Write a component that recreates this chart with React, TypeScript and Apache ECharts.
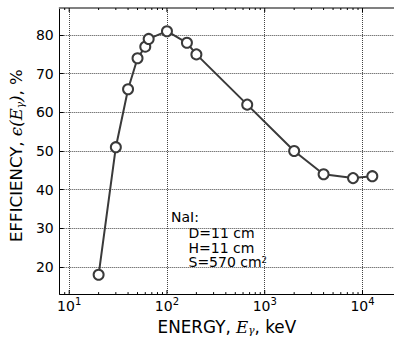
import React, { useEffect, useRef } from 'react';
import * as echarts from 'echarts';

// Data
const ENERGY_KEV = [20, 30, 40, 50, 60, 65, 100, 160, 200, 662, 2000, 4000, 8000, 12600];
const EFFICIENCY_PCT = [18, 51, 66, 74, 77, 79, 81, 78, 75, 62, 50, 44, 43, 43.5];

// Axis ticks
const X_MAJOR_TICKS = [10, 100, 1000, 10000];
const X_MINOR_TICKS = [
  9,
  20, 30, 40, 50, 60, 70, 80, 90,
  200, 300, 400, 500, 600, 700, 800, 900,
  2000, 3000, 4000, 5000, 6000, 7000, 8000, 9000,
];
const Y_TICK_LABELS = [20, 30, 40, 50, 60, 70, 80];

const NOTE_LINES = ['NaI:', 'D=11 cm', 'H=11 cm', 'S=570 cm{sup|2}'];

const X_MIN = 8;
const X_MAX = 21000;
const Y_MIN = 13;
const Y_MAX = 87;

const SANS = 'DejaVu Sans';
const SERIF = 'DejaVu Serif';

export default function App() {
  const ref = useRef<HTMLDivElement>(null);

  useEffect(() => {
    document.body.style.margin = '0';
    if (!ref.current) return;
    const chart = echarts.init(ref.current, undefined, { renderer: 'svg' });

    const tickData = [
      ...X_MAJOR_TICKS.map((v) => [v, Y_MIN, 1]),
      ...X_MINOR_TICKS.map((v) => [v, Y_MIN, 0]),
    ];

    const isPow10 = (v: number) => {
      const e = Math.round(Math.log10(v));
      return Math.abs(v - Math.pow(10, e)) < 1e-6 * v;
    };

    chart.setOption({
      animation: false,
      backgroundColor: '#fff',
      grid: { left: 49, top: 8, right: -9, bottom: 39, containLabel: false },
      xAxis: [
        {
          type: 'log',
          logBase: 10,
          min: X_MIN,
          max: X_MAX,
          position: 'bottom',
          name: 'ENERGY, {m|E}{s|γ}, keV',
          nameLocation: 'middle',
          nameGap: 20,
          nameTextStyle: {
            fontFamily: SANS,
            fontSize: 16.8,
            color: '#000',
            rich: {
              m: { fontFamily: SERIF, fontStyle: 'italic', fontSize: 16.8, color: '#000' },
              s: { fontFamily: SERIF, fontStyle: 'italic', fontSize: 10.5, color: '#000', verticalAlign: 'bottom', lineHeight: 10 },
            },
          },
          axisLine: { show: true, lineStyle: { color: '#000', width: 1 } },
          axisTick: { show: false },
          minorTick: { show: false },
          axisLabel: {
            show: true,
            margin: 2,
            showMinLabel: false,
            showMaxLabel: false,
            color: '#000',
            fontFamily: SANS,
            formatter: (v: number) => {
              if (!isPow10(v)) return '';
              const e = Math.round(Math.log10(v));
              if (!X_MAJOR_TICKS.includes(Math.pow(10, e))) return '';
              return `{b|10}{sup|${e}}`;
            },
            rich: {
              b: { fontFamily: SANS, fontSize: 14, color: '#000', lineHeight: 17, verticalAlign: 'bottom' },
              sup: { fontFamily: SANS, fontSize: 10, color: '#000', lineHeight: 10, verticalAlign: 'top' },
            },
          },
          splitLine: {
            show: true,
            lineStyle: { color: '#444', type: 'dotted', width: 1 },
          },
        },
        {
          type: 'log',
          logBase: 10,
          min: X_MIN,
          max: X_MAX,
          position: 'top',
          axisLine: { show: true, lineStyle: { color: '#808080', width: 2 } },
          axisTick: { show: false },
          axisLabel: { show: false },
          splitLine: { show: false },
        },
      ],
      yAxis: {
        type: 'value',
        min: Y_MIN,
        max: Y_MAX,
        splitNumber: 7,
        name: 'EFFICIENCY, {m|ϵ(E}{s|γ}{m|)}, %',
        nameLocation: 'middle',
        nameGap: 26,
        nameTextStyle: {
          fontFamily: SANS,
          fontSize: 16.6,
          color: '#000',
          padding: [0, 9, 0, 0],
          rich: {
            m: { fontFamily: SERIF, fontStyle: 'italic', fontSize: 16.6, color: '#000' },
            s: { fontFamily: SERIF, fontStyle: 'italic', fontSize: 10.5, color: '#000', verticalAlign: 'bottom', lineHeight: 10 },
          },
        },
        axisLine: { show: true, lineStyle: { color: '#000', width: 1 } },
        axisTick: { show: true, inside: true, length: 4, lineStyle: { color: '#000' } },
        axisLabel: {
          margin: 6,
          color: '#000',
          fontFamily: SANS,
          fontSize: 14,
          showMinLabel: false,
          showMaxLabel: false,
          formatter: (v: number) => (Y_TICK_LABELS.includes(Math.round(v)) && Math.abs(v - Math.round(v)) < 1e-6 ? String(Math.round(v)) : ''),
        },
        splitLine: {
          show: true,
          lineStyle: { color: '#444', type: 'dotted', width: 1 },
        },
      },
      series: [
        {
          type: 'custom',
          name: 'xticks',
          xAxisIndex: 0,
          yAxisIndex: 0,
          silent: true,
          clip: false,
          z: 3,
          encode: { x: 0, y: 1 },
          data: tickData,
          renderItem: (params: any, api: any) => {
            const v = api.value(0);
            const major = api.value(2) === 1;
            const len = major ? 4 : 2;
            const pb = api.coord([v, Y_MIN]);
            const pt = api.coord([v, Y_MAX]);
            const st = { stroke: '#000', lineWidth: 1 };
            return {
              type: 'group',
              children: [
                { type: 'line', shape: { x1: pb[0], y1: pb[1], x2: pb[0], y2: pb[1] - len }, style: st },
                { type: 'line', shape: { x1: pt[0], y1: pt[1], x2: pt[0], y2: pt[1] + len }, style: st },
              ],
            };
          },
        },
        {
          type: 'line',
          name: 'efficiency',
          data: ENERGY_KEV.map((e, i) => [e, EFFICIENCY_PCT[i]]),
          symbol: 'circle',
          symbolSize: 10,
          showSymbol: true,
          z: 5,
          lineStyle: { color: '#3a3a3a', width: 2 },
          itemStyle: { color: '#fff', borderColor: '#3a3a3a', borderWidth: 2 },
        },
      ],
      graphic: NOTE_LINES.map((t, i) => ({
        type: 'text',
        x: i === 0 ? 171 : 188.5,
        y: [217, 232.5, 247.5, 262][i],
        silent: true,
        style: {
          text: t,
          fontFamily: SANS,
          fontSize: 14,
          fill: '#000',
          verticalAlign: 'middle',
          rich: {
            sup: { fontFamily: SANS, fontSize: 8.5, fill: '#000', verticalAlign: 'top', lineHeight: 8 },
          },
        },
      })),
    });

    return () => {
      chart.dispose();
    };
  }, []);

  return <div ref={ref} style={{ width: 394, height: 340 }} />;
}
